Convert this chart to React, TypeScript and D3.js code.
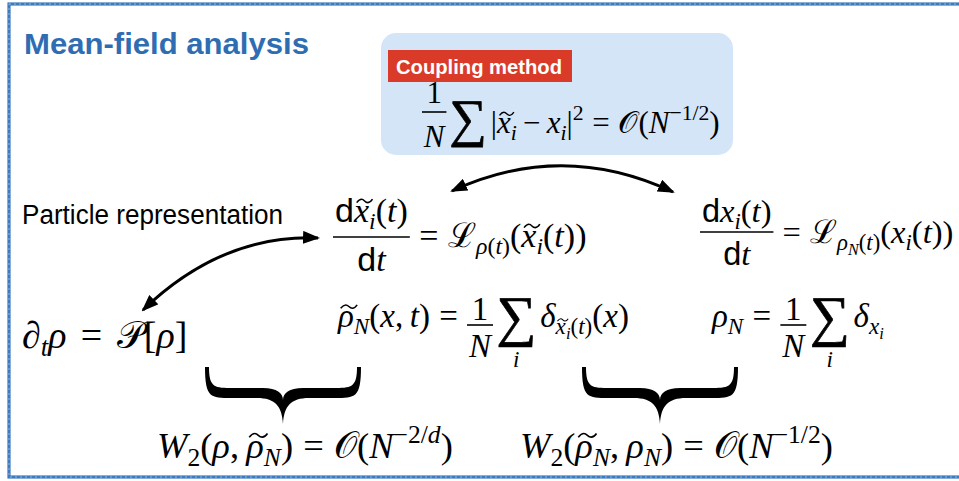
import React, { useRef, useEffect } from 'react';
import * as d3 from 'd3';

const W = 959;
const H = 481;
const SERIF = '"Liberation Serif", "Times New Roman", serif';
const SANS = '"Liberation Sans", Arial, Helvetica, sans-serif';

// texte
const title = 'Mean-field analysis';
const badge = 'Coupling method';
const sideLabel = 'Particle representation';

type Run = { t: string; it?: boolean; sans?: boolean; lvl?: number; tilde?: boolean };

// petits constructeurs
const v = (t: string): Run => ({ t, it: true });
const vt = (t: string): Run => ({ t, it: true, tilde: true });
const r = (t: string): Run => ({ t });
const sd = (t: string): Run => ({ t, sans: true });
const sub = (t: string, it = true, tilde = false): Run => ({ t, it, lvl: -1, tilde });
const sub2 = (t: string): Run => ({ t, it: true, lvl: -2 });
const sup = (t: string, it = false): Run => ({ t, it, lvl: 1 });
const sp = (e: number) => ({ sp: e });
const frac = (num: Run[], den: Run[]) => ({ frac: [num, den] });
const sum = (under: Run[] = []) => ({ sum: under });
const eq = [sp(0.28), r('='), sp(0.28)];

// formules
const couplingEq = [
  frac([r('1')], [v('N')]), sp(0.1), sum(), sp(0.12),
  r('|'), vt('x'), sub('i'), sp(0.2), r('−'), sp(0.2), v('x'), sub('i'), r('|'), sup('2'),
  ...eq, r('𝒪'), r('('), v('N'), sup('−1/2'), r(')'),
];
const tildeOde = [
  frac([sd('d'), vt('x'), sub('i'), r('('), v('t'), r(')')], [sd('d'), v('t')]),
  ...eq, r('ℒ'), sub('ρ'), sub('(', false), sub('t'), sub(')', false),
  r('('), vt('x'), sub('i'), r('('), v('t'), r('))'),
];
const particleOde = [
  frac([sd('d'), v('x'), sub('i'), r('('), v('t'), r(')')], [sd('d'), v('t')]),
  ...eq, r('ℒ'), sub('ρ'), sub2('N'), sub('(', false), sub('t'), sub(')', false),
  r('('), v('x'), sub('i'), r('('), v('t'), r('))'),
];
const pdeEq = [v('∂'), sub('t'), v('ρ'), sp(0.1), ...eq, sp(0.1), r('𝒫'), r('['), v('ρ'), r(']')];
const empTilde = [
  vt('ρ'), sub('N'), r('('), v('x'), r(','), sp(0.2), v('t'), r(')'), ...eq,
  frac([r('1')], [v('N')]), sp(0.1), sum([v('i')]), sp(0.12),
  v('δ'), sub('x', true, true), sub2('i'), sub('(', false), sub('t'), sub(')', false), r('('), v('x'), r(')'),
];
const empEq = [
  v('ρ'), sub('N'), ...eq, frac([r('1')], [v('N')]), sp(0.1), sum([v('i')]), sp(0.12),
  v('δ'), sub('x'), sub2('i'),
];
const w2Left = [
  v('W'), sub('2', false), r('('), v('ρ'), r(','), sp(0.2), vt('ρ'), sub('N'), r(')'),
  ...eq, r('𝒪'), r('('), v('N'), sup('−2/'), sup('d', true), r(')'),
];
const w2Right = [
  v('W'), sub('2', false), r('('), vt('ρ'), sub('N'), r(','), sp(0.2), v('ρ'), sub('N'), r(')'),
  ...eq, r('𝒪'), r('('), v('N'), sup('−1/2'), r(')'),
];

// placement
type Place = { x: number; y: number; s: number; fr?: number[]; sm?: number[] };
const formulas: [any[], Place][] = [
  [couplingEq, { x: 422, y: 133, s: 31, fr: [-30, -21, 14], sm: [1.7, 3, 0] }],
  [tildeOde, { x: 333, y: 247, s: 34, fr: [-25, -10, 24] }],
  [particleOde, { x: 700, y: 243, s: 32.5, fr: [-21, -11, 22] }],
  [pdeEq, { x: 22, y: 348, s: 38 }],
  [empTilde, { x: 338, y: 327, s: 33, fr: [-7, -2, 30], sm: [1.7, 8, 40] }],
  [empEq, { x: 712, y: 327, s: 33, fr: [-7, -2, 30], sm: [1.7, 8, 40] }],
  [w2Left, { x: 157, y: 458, s: 36.5 }],
  [w2Right, { x: 520, y: 458, s: 36.5 }],
];

function drawRun(g: any, run: Run, x: number, base: number, S: number) {
  const lvl = run.lvl || 0;
  const k = lvl === 0 ? 1 : lvl === -2 ? 0.5 : 0.7;
  const dy = lvl === -1 ? 0.22 * S : lvl === 1 ? -0.42 * S : lvl === -2 ? 0.36 * S : 0;
  const size = S * k;
  const t = g.append('text')
    .attr('x', x).attr('y', base + dy)
    .attr('font-size', size)
    .attr('font-family', run.sans ? SANS : SERIF)
    .attr('font-style', run.it ? 'italic' : 'normal')
    .attr('fill', '#000')
    .text(run.t);
  const w = t.node().getComputedTextLength();
  if (run.tilde) {
    const y0 = base + dy - 0.62 * size;
    const x0 = x + 0.08 * size;
    const x1 = x + w + 0.1 * size;
    const a = 0.05 * size;
    const m = (x0 + x1) / 2;
    g.append('path')
      .attr('d', `M${x0},${y0 + a} C${x0 + (x1 - x0) * 0.25},${y0 - 2 * a} ${m - (x1 - x0) * 0.1},${y0 - a} ${m},${y0} S${x1 - (x1 - x0) * 0.2},${y0 + 2 * a} ${x1},${y0 - a}`)
      .attr('fill', 'none').attr('stroke', '#000').attr('stroke-width', Math.max(1, size * 0.045));
  }
  return w;
}

function drawRuns(g: any, runs: Run[], x: number, base: number, S: number) {
  let cx = x;
  runs.forEach((run) => { cx += drawRun(g, run, cx, base, S); });
  return cx - x;
}

function drawFormula(g: any, atoms: any[], p: Place) {
  const S = p.s;
  let cx = p.x;
  atoms.forEach((a) => {
    if (a.sp !== undefined) { cx += a.sp * S; return; }
    if (a.frac) {
      const [nr, dr] = a.frac;
      const [ny, ly, dy] = p.fr || [-25, -10, 24];
      const ng = g.append('g');
      const nw = drawRuns(ng, nr, 0, p.y + ny, S);
      const dg = g.append('g');
      const dw = drawRuns(dg, dr, 0, p.y + dy, S);
      const pad = 0.06 * S;
      const fw = Math.max(nw, dw) + 2 * pad;
      ng.attr('transform', `translate(${cx + (fw - nw) / 2},0)`);
      dg.attr('transform', `translate(${cx + (fw - dw) / 2},0)`);
      g.append('line').attr('x1', cx).attr('x2', cx + fw)
        .attr('y1', p.y + ly).attr('y2', p.y + ly)
        .attr('stroke', '#000').attr('stroke-width', 1.6);
      cx += fw;
      return;
    }
    if (a.sum) {
      const [k, dy, uy] = p.sm || [1.3, 4, 40];
      const t = g.append('text').attr('x', cx).attr('y', p.y + dy)
        .attr('font-size', S * k).attr('font-family', SERIF)
        .attr('stroke', '#000').attr('stroke-width', 0.7)
        .text('∑');
      const w = t.node().getComputedTextLength();
      if (a.sum.length) {
        const ug = g.append('g');
        const uw = drawRuns(ug, a.sum, 0, p.y + uy, S);
        ug.selectAll('text').attr('font-size', S * 0.7);
        const uw2 = uw * 0.7;
        ug.attr('transform', `translate(${cx + (w - uw2) / 2},0)`);
      }
      cx += w;
      return;
    }
    cx += drawRun(g, a as Run, cx, p.y, S);
  });
}

// accolade horizontale
function bracePath(x1: number, x2: number, y0: number, yb: number, yt: number, h: number) {
  const xc = (x1 + x2) / 2;
  const r = 26;
  const lo = yb + h / 2;
  const hi = yb - h / 2;
  return [
    `M${x1},${y0}`,
    `C${x1},${lo} ${x1 + 6},${lo} ${x1 + r},${lo}`,
    `L${xc - r},${lo}`,
    `C${xc - 8},${lo} ${xc - 1},${lo + 8} ${xc},${yt}`,
    `C${xc + 1},${lo + 8} ${xc + 8},${lo} ${xc + r},${lo}`,
    `L${x2 - r},${lo}`,
    `C${x2 - 6},${lo} ${x2},${lo} ${x2},${y0}`,
    `L${x2 - 4},${y0}`,
    `C${x2 - 4},${hi} ${x2 - 10},${hi} ${x2 - r - 2},${hi}`,
    `L${xc + r - 6},${hi}`,
    `C${xc + 6},${hi} ${xc},${yb} ${xc},${lo + 2}`,
    `C${xc},${yb} ${xc - 6},${hi} ${xc - r + 6},${hi}`,
    `L${x1 + r + 2},${hi}`,
    `C${x1 + 10},${hi} ${x1 + 4},${hi} ${x1 + 4},${y0}`,
    'Z',
  ].join(' ');
}

const braces = [
  [205, 361],
  [582, 738],
];

const arrows = [
  'M452,191 Q562,140 673,192',
  'M318,238 Q222,234 143,310',
];

export default function App() {
  const ref = useRef<SVGSVGElement>(null);

  useEffect(() => {
    const svg = d3.select(ref.current);
    svg.selectAll('*').remove();

    svg.append('rect').attr('width', W).attr('height', H).attr('fill', '#fff');

    const defs = svg.append('defs');
    defs.append('marker')
      .attr('id', 'ah').attr('viewBox', '0 0 17 13')
      .attr('markerWidth', 17).attr('markerHeight', 13)
      .attr('refX', 15).attr('refY', 6.5)
      .attr('markerUnits', 'userSpaceOnUse')
      .attr('orient', 'auto-start-reverse')
      .append('path').attr('d', 'M0,0 L17,6.5 L0,13 Z').attr('fill', '#000');

    // cadre bleu
    svg.append('rect')
      .attr('x', 9).attr('y', 4).attr('width', 1000).attr('height', 473)
      .attr('fill', 'none').attr('stroke', '#3c7bc0').attr('stroke-width', 3.2);
    svg.append('rect')
      .attr('x', 9).attr('y', 4).attr('width', 1000).attr('height', 473)
      .attr('fill', 'none').attr('stroke', '#8fb6e2').attr('stroke-width', 1)
      .attr('stroke-dasharray', '2 3');

    svg.append('text')
      .attr('x', 24).attr('y', 54)
      .attr('font-family', SANS).attr('font-weight', 'bold').attr('font-size', 30)
      .attr('fill', '#2f6db3')
      .attr('textLength', 285).attr('lengthAdjust', 'spacingAndGlyphs')
      .text(title);

    // encadré couplage
    svg.append('rect')
      .attr('x', 381).attr('y', 33).attr('width', 352).attr('height', 122)
      .attr('rx', 15).attr('fill', '#d4e5f8');
    svg.append('rect')
      .attr('x', 388).attr('y', 50).attr('width', 184).attr('height', 32)
      .attr('fill', '#d93b28');
    svg.append('text')
      .attr('x', 396).attr('y', 73.5)
      .attr('font-family', SANS).attr('font-weight', 'bold').attr('font-size', 20)
      .attr('fill', '#fff')
      .attr('textLength', 166).attr('lengthAdjust', 'spacingAndGlyphs')
      .text(badge);

    svg.append('text')
      .attr('x', 22).attr('y', 224)
      .attr('font-family', SANS).attr('font-size', 27)
      .attr('fill', '#000')
      .attr('textLength', 261).attr('lengthAdjust', 'spacingAndGlyphs')
      .text(sideLabel);

    const fg = svg.append('g');
    formulas.forEach(([atoms, p]) => drawFormula(fg.append('g'), atoms, p));

    braces.forEach(([a, b]) => {
      svg.append('path').attr('d', bracePath(a, b, 367, 393, 424, 10)).attr('fill', '#000');
    });

    arrows.forEach((d) => {
      svg.append('path').attr('d', d)
        .attr('fill', 'none').attr('stroke', '#000').attr('stroke-width', 3)
        .attr('marker-start', 'url(#ah)').attr('marker-end', 'url(#ah)');
    });
  }, []);

  return (
    <div style={{ position: 'absolute', left: 0, top: 0, width: W, height: H }}>
      <svg ref={ref} width={W} height={H} style={{ display: 'block' }} />
    </div>
  );
}
